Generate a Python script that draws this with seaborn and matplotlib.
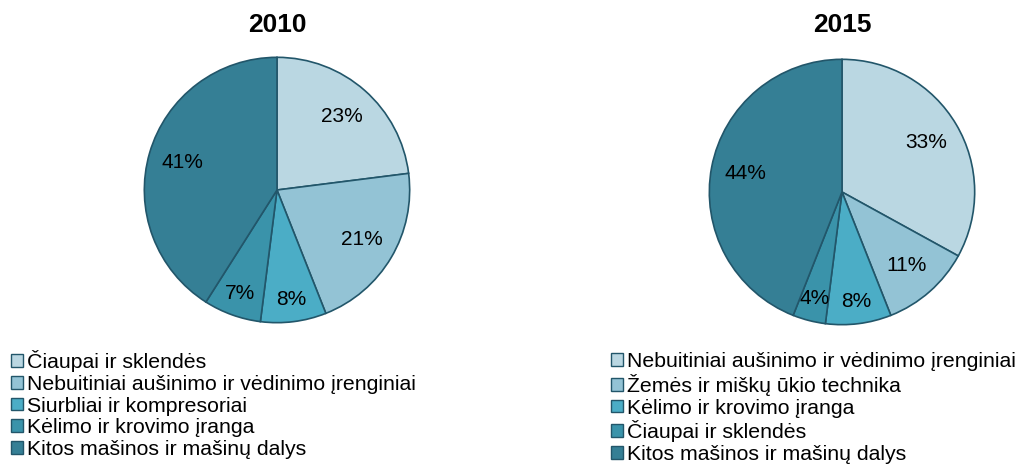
import matplotlib
matplotlib.use("Agg")
import matplotlib.pyplot as plt
import seaborn as sns
from matplotlib.patches import Patch

sns.set_theme(style="white")
plt.rcParams['font.family'] = ['Liberation Sans', 'DejaVu Sans']
plt.rcParams['text.color'] = 'black'

labels_2010 = ['Čiaupai ir sklendės', 'Nebuitiniai aušinimo ir vėdinimo įrenginiai',
               'Siurbliai ir kompresoriai', 'Kėlimo ir krovimo įranga',
               'Kitos mašinos ir mašinų dalys']
values_2010 = [23, 21, 8, 7, 41]

labels_2015 = ['Nebuitiniai aušinimo ir vėdinimo įrenginiai', 'Žemės ir miškų ūkio technika',
               'Kėlimo ir krovimo įranga', 'Čiaupai ir sklendės',
               'Kitos mašinos ir mašinų dalys']
values_2015 = [33, 11, 8, 4, 44]

colors = ['#BAD7E2', '#93C3D5', '#4BADC6', '#3A93AA', '#357F95']
edge = '#22566A'

fig = plt.figure(figsize=(10.19, 4.65), dpi=100)
W, H = 1019, 465


def draw(cx, cy, r, title, labels, values, leg_x, leg_y):
    ax = fig.add_axes([(cx - r) / W, (H - cy - r) / H, 2 * r / W, 2 * r / H])
    wedges, texts, autotexts = ax.pie(
        values, colors=colors, startangle=90, counterclock=False,
        autopct='%1.0f%%', pctdistance=0.74,
        wedgeprops=dict(edgecolor=edge, linewidth=1.2),
        textprops=dict(fontsize=15, color='black'))
    # small slices: push labels a bit further out
    for v, t in zip(values, autotexts):
        if v < 10:
            x, y = t.get_position()
            t.set_position((x * 0.83 / 0.74, y * 0.83 / 0.74))
    ax.set_xlim(-1.01, 1.01)
    ax.set_ylim(-1.01, 1.01)
    ax.set_aspect('equal')
    fig.text(cx / W, 1 - 25 / H, title, ha='center', va='center',
             fontsize=19, fontweight='bold', color='black')
    handles = [Patch(facecolor=c, edgecolor=edge, linewidth=1.0) for c in colors]
    leg = fig.legend(handles, labels, loc='upper left',
                     bbox_to_anchor=(leg_x / W, 1 - leg_y / H), frameon=False,
                     fontsize=15.3, handlelength=0.55, handleheight=0.55,
                     handletextpad=0.2, labelspacing=0.13, borderpad=0,
                     borderaxespad=0)
    for t in leg.get_texts():
        t.set_color('black')


draw(277, 190, 134, '2010', labels_2010, values_2010, 11, 350)
draw(842, 192, 134, '2015', labels_2015, values_2015, 611, 352)

fig.savefig('out.png', dpi=100)
